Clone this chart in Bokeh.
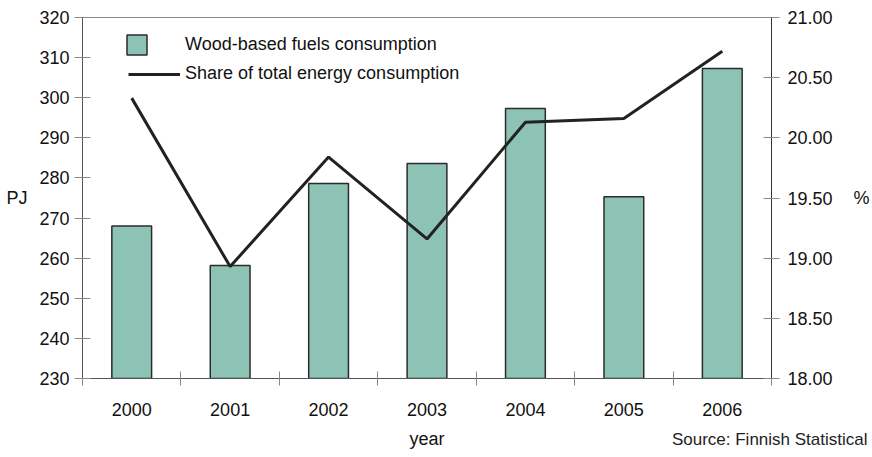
from bokeh.plotting import figure
from bokeh.models import (Range1d, LinearAxis, FixedTicker, NumeralTickFormatter,
                          Legend, LegendItem, Title, ColumnDataSource)
from bokeh.embed import file_html
from bokeh.resources import INLINE

years = ["2000", "2001", "2002", "2003", "2004", "2005", "2006"]
wood_pj = [268.0, 258.2, 278.6, 283.6, 297.3, 275.3, 307.3]
share_pct = [20.33, 18.93, 19.84, 19.16, 20.13, 20.16, 20.72]
left_ticks = [230, 240, 250, 260, 270, 280, 290, 300, 310, 320]
right_ticks = [18.0, 18.5, 19.0, 19.5, 20.0, 20.5, 21.0]

FONT = "Liberation Sans"
FS = "18px"
BAR = "#8cc3b4"
TXT = "#111111"

xs = list(range(len(years)))
src = ColumnDataSource(dict(x=xs, pj=wood_pj, pct=share_pct))

p = figure(width=872, height=457, output_backend="svg", toolbar_location=None,
           x_range=Range1d(-0.5, len(years) - 0.5), y_range=Range1d(230, 320),
           min_border_left=82, min_border_right=96, min_border_top=17,
           min_border_bottom=79)
p.extra_y_ranges = {"pct": Range1d(18, 21)}
p.xgrid.visible = False
p.ygrid.visible = False
p.outline_line_color = "#888888"
p.outline_line_width = 1
p.background_fill_color = "white"
p.border_fill_color = "white"

bars = p.vbar(x="x", top="pj", bottom=230, width=0.404, source=src,
              fill_color=BAR, line_color="#2b2b2b", line_width=1.5)
line = p.line(x="x", y="pct", source=src, y_range_name="pct",
              line_color="#222222", line_width=3)

# x axis: labels at centres, ticks at category boundaries (minor ticks)
xa = p.xaxis[0]
xa.ticker = FixedTicker(ticks=xs, minor_ticks=[i - 0.5 for i in range(len(years) + 1)])
xa.major_label_overrides = {i: y for i, y in zip(xs, years)}
xa.major_tick_in = 0
xa.major_tick_out = 0
xa.minor_tick_in = 7
xa.minor_tick_out = 7
xa.minor_tick_line_color = "#888888"
xa.axis_line_color = "#555555"
xa.major_label_standoff = 17
xa.major_label_text_font = FONT
xa.major_label_text_font_size = FS
xa.major_label_text_color = TXT
xa.axis_label = "year"
xa.axis_label_standoff = 10
xa.axis_label_text_font = FONT
xa.axis_label_text_font_size = FS
xa.axis_label_text_font_style = "normal"
xa.axis_label_text_color = TXT

ya = p.yaxis[0]
ya.ticker = FixedTicker(ticks=left_ticks)
ya.minor_tick_line_color = None
ya.major_tick_in = 8
ya.major_tick_out = 8
ya.major_tick_line_color = "#888888"
ya.axis_line_color = "#555555"
ya.major_label_standoff = 5
ya.major_label_text_font = FONT
ya.major_label_text_font_size = FS
ya.major_label_text_color = TXT
ya.axis_label = "PJ"
ya.axis_label_orientation = "horizontal"
ya.axis_label_standoff = 9
ya.axis_label_text_font = FONT
ya.axis_label_text_font_size = FS
ya.axis_label_text_font_style = "normal"
ya.axis_label_text_color = TXT

ra = LinearAxis(y_range_name="pct", ticker=FixedTicker(ticks=right_ticks),
                formatter=NumeralTickFormatter(format="0.00"))
ra.minor_tick_line_color = None
ra.major_tick_in = 8
ra.major_tick_out = 8
ra.major_tick_line_color = "#888888"
ra.axis_line_color = "#333333"
ra.major_label_standoff = 8
ra.major_label_text_font = FONT
ra.major_label_text_font_size = FS
ra.major_label_text_color = TXT
ra.axis_label = "%"
ra.axis_label_orientation = "horizontal"
ra.axis_label_standoff = 18
ra.axis_label_text_font = FONT
ra.axis_label_text_font_size = FS
ra.axis_label_text_font_style = "normal"
ra.axis_label_text_color = TXT
p.add_layout(ra, "right")

leg1 = Legend(items=[LegendItem(label="Wood-based fuels consumption", renderers=[bars])],
              location=(42, 321), glyph_width=25, glyph_height=25, label_standoff=36,
              padding=0, margin=0, spacing=0, border_line_color=None,
              background_fill_alpha=0, label_text_font=FONT, label_text_font_size=FS,
              label_text_color=TXT, label_height=25)
leg2 = Legend(items=[LegendItem(label="Share of total energy consumption", renderers=[line])],
              location=(46, 294), glyph_width=52, glyph_height=20, label_standoff=5,
              padding=0, margin=0, spacing=0, border_line_color=None,
              background_fill_alpha=0, label_text_font=FONT, label_text_font_size=FS,
              label_text_color=TXT, label_height=20)
p.add_layout(leg1, "center")
p.add_layout(leg2, "center")

src_title = Title(text="Source: Finnish Statistical", align="right", vertical_align="top",
                  standoff=-44, text_font=FONT, text_font_size="17px",
                  text_font_style="normal", text_color="#222222", offset=-96)
p.add_layout(src_title, "below")

open("out.html", "w").write(file_html(p, INLINE))
